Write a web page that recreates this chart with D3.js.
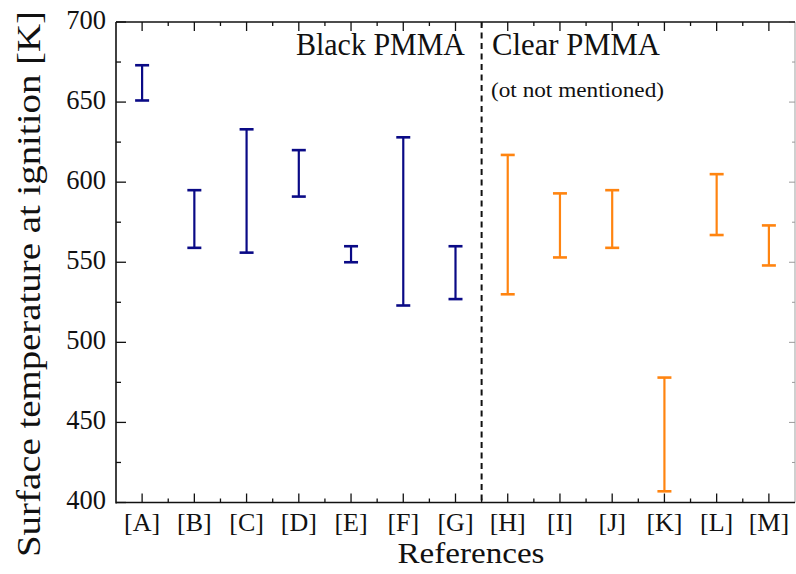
<!DOCTYPE html>
<html>
<head>
<meta charset="utf-8">
<script src="https://cdn.jsdelivr.net/npm/d3@7"></script>
<style>
  html, body { margin: 0; padding: 0; background: #fff; }
  svg { display: block; }
  text { font-family: "Liberation Serif", "Times New Roman", serif; fill: #111; }
</style>
</head>
<body>
<svg id="chart" width="796" height="574"></svg>
<script>
// ---- data ----
const categories = ["[A]", "[B]", "[C]", "[D]", "[E]", "[F]", "[G]", "[H]", "[I]", "[J]", "[K]", "[L]", "[M]"];
const groups     = ["black", "black", "black", "black", "black", "black", "black", "clear", "clear", "clear", "clear", "clear", "clear"];
const lowValues  = [651, 559, 556, 591, 550, 523, 527, 530, 553, 559, 407, 567, 548];
const highValues = [673, 595, 633, 620, 560, 628, 560, 617, 593, 595, 478, 605, 573];
const yTicks = [400, 450, 500, 550, 600, 650, 700];
const yMinorTicks = [425, 475, 525, 575, 625, 675];
const groupLabels = ["Black PMMA", "Clear PMMA"];
const groupNote = "(ot not mentioned)";
const xTitle = "References";
const yTitle = "Surface temperature at ignition [K]";
const colors = { black: "#0a0a86", clear: "#ff8410" };

// ---- layout ----
const svg = d3.select("#chart");
const pL = 116, pR = 795, pT = 22, pB = 502.5;
const x = d3.scaleLinear().domain([0.5, categories.length + 0.5]).range([pL, pR]);
const y = d3.scaleLinear().domain([400, 700]).range([pB, pT]);

// grey right border
svg.append("line").attr("x1", pR).attr("x2", pR).attr("y1", pT).attr("y2", pB)
  .attr("stroke", "#b0b0b0").attr("stroke-width", 1.2);
// right axis ticks
svg.append("g").selectAll("line").data(yTicks.concat(yMinorTicks)).join("line")
  .attr("x1", pR).attr("x2", d => pR - (yTicks.includes(d) ? 6 : 3))
  .attr("y1", d => y(d)).attr("y2", d => y(d))
  .attr("stroke", "#999").attr("stroke-width", 1);

// left axis
const gy = svg.append("g");
gy.append("line").attr("x1", pL).attr("x2", pL).attr("y1", pT).attr("y2", pB + 1)
  .attr("stroke", "#111").attr("stroke-width", 1.6);
gy.selectAll("line.maj").data(yTicks).join("line").attr("class", "maj")
  .attr("x1", pL).attr("x2", pL + 10).attr("y1", d => y(d)).attr("y2", d => y(d))
  .attr("stroke", "#111").attr("stroke-width", 1.3);
gy.selectAll("line.min").data(yMinorTicks).join("line").attr("class", "min")
  .attr("x1", pL).attr("x2", pL + 5).attr("y1", d => y(d)).attr("y2", d => y(d))
  .attr("stroke", "#111").attr("stroke-width", 1.3);
gy.selectAll("text").data(yTicks).join("text")
  .attr("x", 106).attr("y", d => y(d)).attr("dy", "0.26em")
  .attr("text-anchor", "end").attr("font-size", 26.5).text(d => d);

// bottom and top axes
const catIdx = d3.range(1, categories.length + 1);
const minorX = d3.range(1, categories.length).map(i => i + 0.5);
[{yy: pB, dir: -1, col: "#111"}, {yy: pT, dir: 1, col: "#111"}].forEach(a => {
  svg.append("line").attr("x1", pL).attr("x2", pR).attr("y1", a.yy).attr("y2", a.yy)
    .attr("stroke", a.col).attr("stroke-width", 1.6);
  svg.append("g").selectAll("line").data(catIdx).join("line")
    .attr("x1", d => x(d)).attr("x2", d => x(d))
    .attr("y1", a.yy).attr("y2", a.yy + a.dir * 9)
    .attr("stroke", a.col).attr("stroke-width", 1.3);
  svg.append("g").selectAll("line").data(minorX).join("line")
    .attr("x1", d => x(d)).attr("x2", d => x(d))
    .attr("y1", a.yy).attr("y2", a.yy + a.dir * 4)
    .attr("stroke", a.col).attr("stroke-width", 1.3);
});
svg.append("g").selectAll("text").data(categories).join("text")
  .attr("x", (d, i) => x(i + 1)).attr("y", 531)
  .attr("text-anchor", "middle").attr("font-size", 26).text(d => d);

// dashed divider
svg.append("line").attr("x1", x(7.5)).attr("x2", x(7.5)).attr("y1", pT).attr("y2", pB)
  .attr("stroke", "#111").attr("stroke-width", 2).attr("stroke-dasharray", "6,4.5");

// error bars
const cap = 7;
const bars = svg.append("g").selectAll("g").data(categories).join("g")
  .attr("stroke", (d, i) => colors[groups[i]]).attr("stroke-width", 2.2);
bars.append("line")
  .attr("x1", (d, i) => x(i + 1)).attr("x2", (d, i) => x(i + 1))
  .attr("y1", (d, i) => y(lowValues[i])).attr("y2", (d, i) => y(highValues[i]));
bars.append("line")
  .attr("x1", (d, i) => x(i + 1) - cap).attr("x2", (d, i) => x(i + 1) + cap)
  .attr("y1", (d, i) => y(highValues[i])).attr("y2", (d, i) => y(highValues[i]))
  .attr("stroke-width", 2.6);
bars.append("line")
  .attr("x1", (d, i) => x(i + 1) - cap).attr("x2", (d, i) => x(i + 1) + cap)
  .attr("y1", (d, i) => y(lowValues[i])).attr("y2", (d, i) => y(lowValues[i]))
  .attr("stroke-width", 2.6);

// group labels
svg.append("text").attr("x", 465).attr("y", 55).attr("text-anchor", "end")
  .attr("font-size", 30.5).attr("textLength", 169).attr("lengthAdjust", "spacingAndGlyphs")
  .text(groupLabels[0]);
svg.append("text").attr("x", 492).attr("y", 55)
  .attr("font-size", 30.5).attr("textLength", 168).attr("lengthAdjust", "spacingAndGlyphs")
  .text(groupLabels[1]);
svg.append("text").attr("x", 491).attr("y", 97)
  .attr("font-size", 21.5).attr("textLength", 173).attr("lengthAdjust", "spacingAndGlyphs")
  .text(groupNote);

// axis titles
svg.append("text").attr("x", 471).attr("y", 563).attr("text-anchor", "middle")
  .attr("font-size", 29).attr("textLength", 147).attr("lengthAdjust", "spacingAndGlyphs")
  .text(xTitle);
svg.append("text").attr("transform", "translate(40,284) rotate(-90)")
  .attr("text-anchor", "middle").attr("font-size", 33)
  .attr("textLength", 546).attr("lengthAdjust", "spacingAndGlyphs")
  .text(yTitle);
</script>
</body>
</html>
